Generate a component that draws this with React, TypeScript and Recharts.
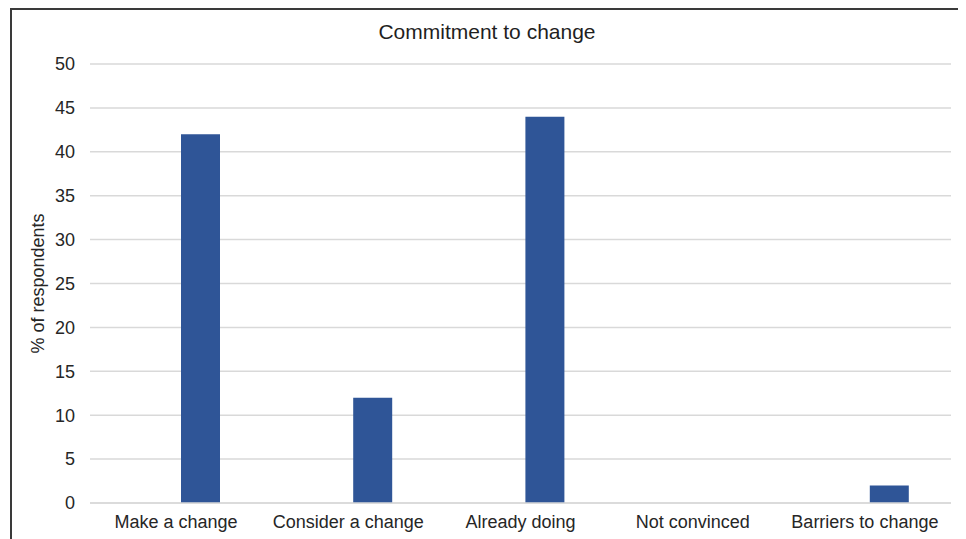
import { Bar, BarChart, CartesianGrid, XAxis, YAxis, Label } from "recharts";

const categories = [
  "Make a change",
  "Consider a change",
  "Already doing",
  "Not convinced",
  "Barriers to change",
];
// first series of the cluster is empty in the source, only its slot shows
const emptySeries = [null, null, null, null, null];
const respondents = [42, 12, 44, 0, 2];
const yTicks = [0, 5, 10, 15, 20, 25, 30, 35, 40, 45, 50];

const data = categories.map((name, i) => ({
  name,
  empty: emptySeries[i],
  value: respondents[i],
}));

const FONT = '"Liberation Sans", Arial, sans-serif';

export default function App() {
  return (
    <div
      style={{
        marginLeft: 2,
        width: 954,
        height: 529,
        borderTop: "2px solid #3a3a3a",
        borderLeft: "2px solid #3a3a3a",
        position: "relative",
        background: "#fff",
        fontFamily: FONT,
      }}
    >
      <div
        style={{
          position: "absolute",
          top: 11,
          left: -2,
          width: 954,
          textAlign: "center",
          fontSize: 21,
          lineHeight: "21px",
          color: "#1f1f1f",
        }}
      >
        Commitment to change
      </div>
      <BarChart
        width={954}
        height={529}
        data={data}
        margin={{ top: 54, right: 15, left: 0, bottom: 0 }}
        barSize={39}
        barGap={10}
      >
        <CartesianGrid vertical={false} stroke="#d9d9d9" strokeWidth={1.5} />
        <XAxis
          dataKey="name"
          height={36}
          tickLine={false}
          axisLine={{ stroke: "#d9d9d9", strokeWidth: 1.5 }}
          tickSize={0}
          tickMargin={12}
          interval={0}
          tick={{ fill: "#262626", fontSize: 18, fontFamily: FONT }}
        />
        <YAxis
          width={78}
          domain={[0, 50]}
          ticks={yTicks}
          axisLine={false}
          tickLine={false}
          tickSize={0}
          tickMargin={15}
          tick={{ fill: "#262626", fontSize: 18, fontFamily: FONT }}
        >
          <Label
            value="% of respondents"
            angle={-90}
            position="insideLeft"
            dx={21}
            style={{ fill: "#262626", fontSize: 18, fontFamily: FONT, textAnchor: "middle" }}
          />
        </YAxis>
        <Bar dataKey="empty" fill="#2F5597" isAnimationActive={false} />
        <Bar dataKey="value" fill="#2F5597" isAnimationActive={false} />
      </BarChart>
    </div>
  );
}
